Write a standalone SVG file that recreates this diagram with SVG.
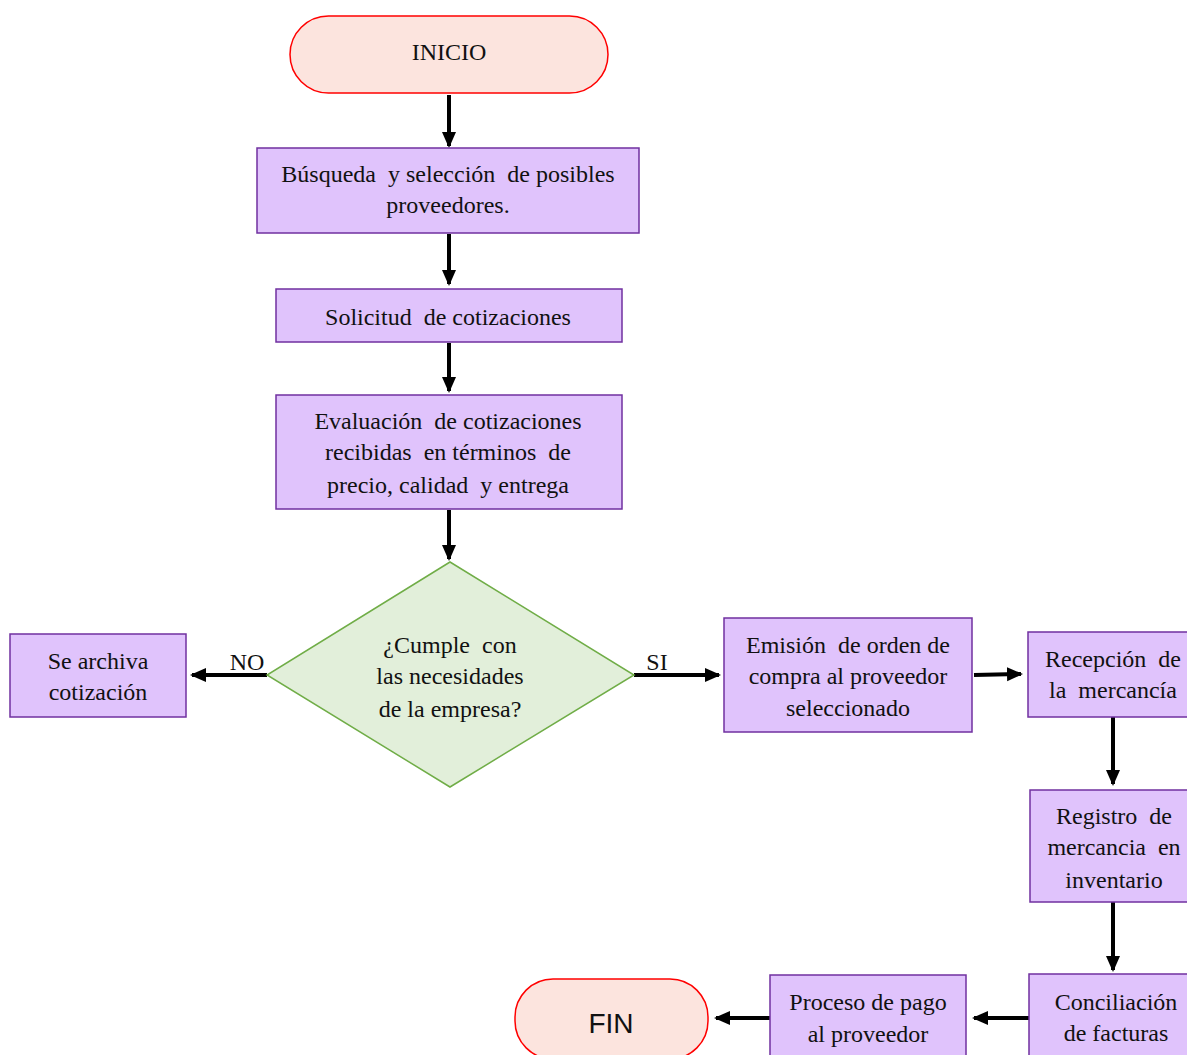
<svg xmlns="http://www.w3.org/2000/svg" width="1187" height="1055" viewBox="0 0 1187 1055">
<style>
.term{fill:#FCE4DE;stroke:#FF0000;stroke-width:1.5}
.box{fill:#E0C3FC;stroke:#7030A0;stroke-width:1.5}
.dec{fill:#E2EFDA;stroke:#70AD47;stroke-width:1.5}
.t{font-family:"Liberation Serif","Times New Roman",serif;font-size:24px;fill:#111;text-anchor:middle;white-space:pre}
.s{font-family:"Liberation Sans",Arial,sans-serif;font-size:28px;fill:#111;text-anchor:middle}
.c{stroke:#000;stroke-width:4;fill:none;marker-end:url(#ah)}
</style>
<defs>
<marker id="ah" markerUnits="userSpaceOnUse" markerWidth="16" markerHeight="16" viewBox="0 0 16 16" refX="14" refY="8" orient="auto">
<path d="M0,1 L16,8 L0,15 Z" fill="#000"/>
</marker>
</defs>
<g id="connectors">
<line class="c" x1="449" y1="95" x2="449" y2="146"/>
<line class="c" x1="449" y1="234" x2="449" y2="284"/>
<line class="c" x1="449" y1="343" x2="449" y2="391"/>
<line class="c" x1="449" y1="510" x2="449" y2="559"/>
<line class="c" x1="267" y1="675" x2="192" y2="675"/>
<line class="c" x1="634" y1="675" x2="719" y2="675"/>
<line class="c" x1="974" y1="675" x2="1021" y2="674"/>
<line class="c" x1="1113" y1="717" x2="1113" y2="784"/>
<line class="c" x1="1113" y1="902" x2="1113" y2="970"/>
<line class="c" x1="1029" y1="1018" x2="974" y2="1018"/>
<line class="c" x1="770" y1="1018" x2="716" y2="1018"/>
<text class="t" x="247" y="670">NO</text>
<text class="t" x="657" y="670">SI</text>
</g>
<g id="inicio"><rect class="term" x="290" y="16" width="318" height="77" rx="38.5"/><text class="t" x="449" y="60">INICIO</text></g>
<g id="busqueda"><rect class="box" x="257" y="148" width="382" height="85"/><text class="t" x="448" y="182">Búsqueda  y selección  de posibles</text><text class="t" x="448" y="213">proveedores.</text></g>
<g id="solicitud"><rect class="box" x="276" y="289" width="346" height="53"/><text class="t" x="448" y="325">Solicitud  de cotizaciones</text></g>
<g id="evaluacion"><rect class="box" x="276" y="395" width="346" height="114"/><text class="t" x="448" y="429">Evaluación  de cotizaciones</text><text class="t" x="448" y="460">recibidas  en términos  de</text><text class="t" x="448" y="493">precio, calidad  y entrega</text></g>
<g id="decision"><polygon class="dec" points="450,562 634,675 450,787 267,675"/><text class="t" x="450" y="653">¿Cumple  con</text><text class="t" x="450" y="684">las necesidades</text><text class="t" x="450" y="717">de la empresa?</text></g>
<g id="archiva"><rect class="box" x="10" y="634" width="176" height="83"/><text class="t" x="98" y="669">Se archiva</text><text class="t" x="98" y="700">cotización</text></g>
<g id="emision"><rect class="box" x="724" y="618" width="248" height="114"/><text class="t" x="848" y="653">Emisión  de orden de</text><text class="t" x="848" y="684">compra al proveedor</text><text class="t" x="848" y="716">seleccionado</text></g>
<g id="recepcion"><rect class="box" x="1028" y="632" width="162" height="85"/><text class="t" x="1113" y="667">Recepción  de</text><text class="t" x="1113" y="698">la  mercancía</text></g>
<g id="registro"><rect class="box" x="1030" y="790" width="160" height="112"/><text class="t" x="1114" y="824">Registro  de</text><text class="t" x="1114" y="855">mercancia  en</text><text class="t" x="1114" y="888">inventario</text></g>
<g id="conciliacion"><rect class="box" x="1029" y="974" width="161" height="86"/><text class="t" x="1116" y="1010">Conciliación</text><text class="t" x="1116" y="1041">de facturas</text></g>
<g id="pago"><rect class="box" x="770" y="975" width="196" height="85"/><text class="t" x="868" y="1010">Proceso de pago</text><text class="t" x="868" y="1042">al proveedor</text></g>
<g id="fin"><rect class="term" x="515" y="979" width="193" height="80" rx="38"/><text class="s" x="611" y="1033">FIN</text></g>
</svg>
